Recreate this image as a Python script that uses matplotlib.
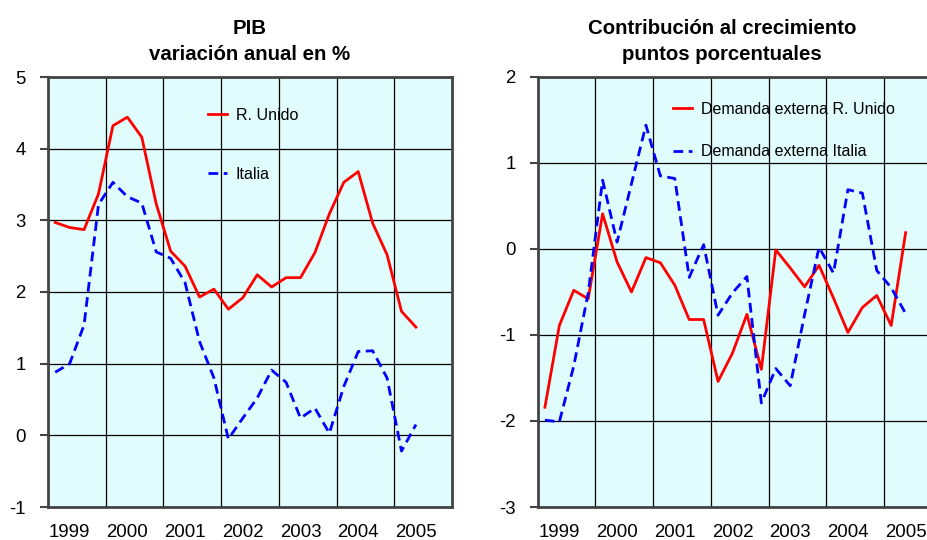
import numpy as np
import matplotlib
matplotlib.use("Agg")
import matplotlib.pyplot as plt
from matplotlib import font_manager

plt.rcParams['font.family'] = ['Liberation Sans', 'DejaVu Sans']
plt.rcParams['axes.unicode_minus'] = False

# quarters 1999Q1 .. 2005Q2
quarters = [f"{y}Q{q}" for y in range(1999, 2006) for q in range(1, 5)][:26]
years = ['1999', '2000', '2001', '2002', '2003', '2004', '2005']

# PIB, variacion anual en %
pib_ru = [2.97, 2.90, 2.87, 3.37, 4.32, 4.44, 4.16, 3.23, 2.57, 2.36, 1.93, 2.04, 1.76,
          1.92, 2.24, 2.07, 2.20, 2.20, 2.55, 3.09, 3.53, 3.68, 2.96, 2.52, 1.73, 1.51]
pib_it = [0.88, 1.00, 1.54, 3.22, 3.53, 3.33, 3.24, 2.56, 2.47, 2.13, 1.31, 0.80, -0.05,
          0.24, 0.52, 0.91, 0.74, 0.24, 0.38, 0.03, 0.68, 1.17, 1.18, 0.80, -0.22, 0.15]

# Contribucion de la demanda externa, puntos porcentuales
dem_ru = [-1.84, -0.89, -0.48, -0.58, 0.41, -0.15, -0.50, -0.10, -0.16, -0.42, -0.82, -0.82, -1.54,
          -1.21, -0.76, -1.40, -0.01, -0.22, -0.44, -0.19, -0.57, -0.97, -0.68, -0.54, -0.89, 0.19]
dem_it = [-1.99, -2.01, -1.36, -0.51, 0.80, 0.08, 0.76, 1.44, 0.85, 0.82, -0.33, 0.05, -0.77,
          -0.51, -0.32, -1.79, -1.39, -1.59, -0.76, 0.02, -0.28, 0.69, 0.65, -0.25, -0.45, -0.75]

# titles use a narrow bold face if there is one
installed = {f.name for f in font_manager.fontManager.ttflist}
if 'Liberation Sans Narrow' in installed:
    title_font, title_size = 'Liberation Sans Narrow', 16.5
else:
    title_font, title_size = 'Liberation Sans', 14.7

x = np.arange(len(quarters))
W, H = 927, 540
fig = plt.figure(figsize=(W / 100, H / 100), dpi=100)

bg = '#e0fcfc'
frame = '#444444'


def style_axes(ax, ylim):
    ax.set_facecolor(bg)
    ax.set_xlim(-0.5, 27.5)
    ax.set_ylim(*ylim)
    ax.set_yticks(np.arange(ylim[0], ylim[1] + 1))
    ax.set_xticks(np.arange(1, 28, 4))
    ax.set_xticklabels(years)
    ax.set_xticks(np.arange(3.5, 27, 4), minor=True)
    ax.grid(True, which='minor', axis='x', color='black', lw=0.9)
    ax.grid(True, which='major', axis='y', color='black', lw=0.9)
    ax.set_axisbelow(True)
    ax.tick_params(axis='x', which='both', length=0, labelsize=13.4, pad=12.5)
    ax.tick_params(axis='y', length=5.5, width=1.5, color=frame, labelsize=13.4, pad=10.5)
    for s in ax.spines.values():
        s.set_color(frame)
        s.set_linewidth(2)


ax1 = fig.add_axes([48 / W, 33 / H, 404 / W, 430 / H])
style_axes(ax1, (-1, 5))
ax1.plot(x, pib_ru, color='#ff0000', lw=2, label='R. Unido')
ax1.plot(x, pib_it, color='#0000ff', lw=2, ls=(0, (3.5, 2.0)), label='Italia')
ax1.legend(loc='upper left', bbox_to_anchor=(0.396, 0.928), frameon=False, fontsize=11.5,
           handlelength=1.2, handletextpad=0.55, labelspacing=2.75, borderpad=0, borderaxespad=0)

ax2 = fig.add_axes([537.7 / W, 33 / H, 404 / W, 430 / H])
style_axes(ax2, (-3, 2))
ax2.plot(x, dem_ru, color='#ff0000', lw=2, label='Demanda externa R. Unido')
ax2.plot(x, dem_it, color='#0000ff', lw=2, ls=(0, (3.5, 2.0)), label='Demanda externa Italia')
ax2.legend(loc='upper left', bbox_to_anchor=(0.335, 0.943), frameon=False, fontsize=11.5,
           handlelength=1.2, handletextpad=0.55, labelspacing=1.75, borderpad=0, borderaxespad=0)

tkw = dict(ha='center', va='baseline', fontsize=title_size, fontweight='bold', family=title_font)
fig.text(250 / W, 1 - 34 / H, 'PIB', **tkw)
fig.text(250 / W, 1 - 60 / H, 'variación anual en %', **tkw)
fig.text(722 / W, 1 - 34 / H, 'Contribución al crecimiento', **tkw)
fig.text(722 / W, 1 - 60 / H, 'puntos porcentuales', **tkw)

fig.savefig('out.png', dpi=100)
